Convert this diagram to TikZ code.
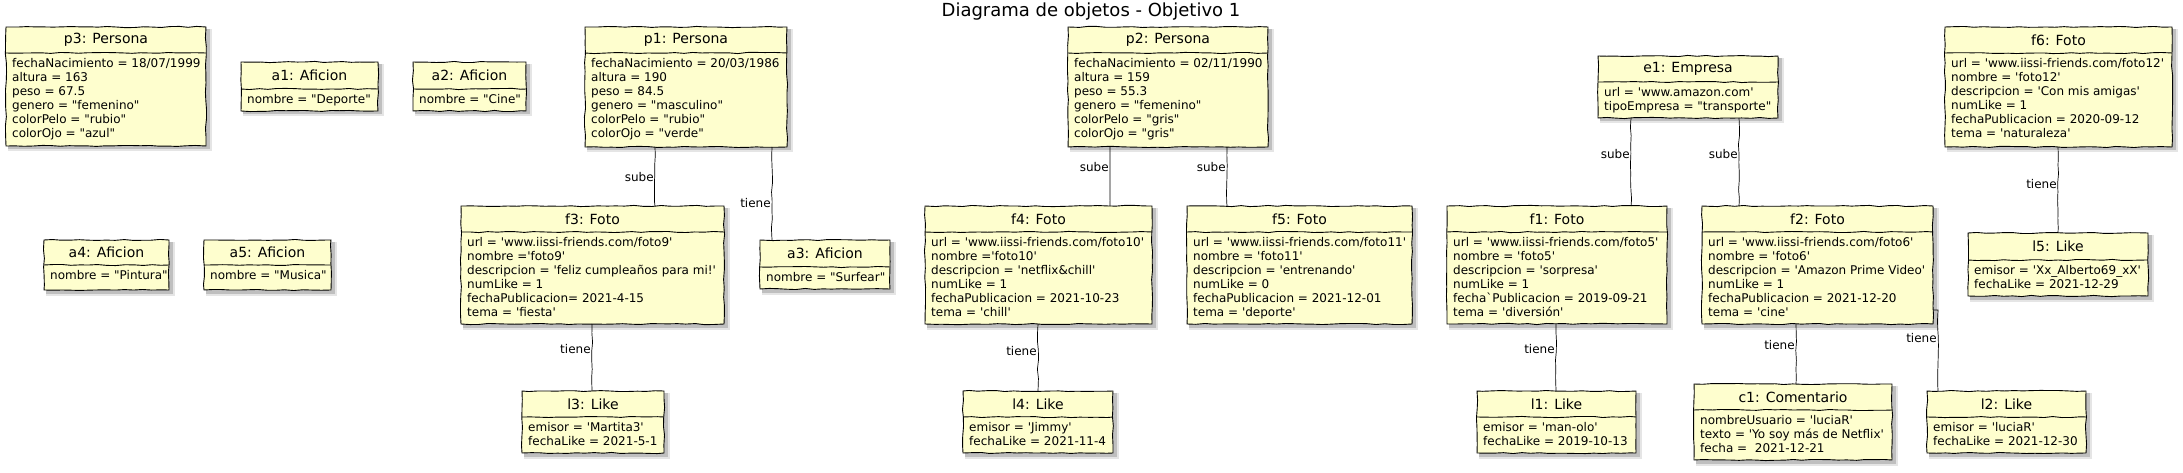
\documentclass[tikz,border=0pt]{standalone}
\usepackage{fontspec}
\newfontfamily\dvs{DejaVu Sans}
\usetikzlibrary{decorations.pathmorphing,calc}
\definecolor{objfill}{HTML}{FEFECE}
\tikzset{
  wavy/.style={decorate, decoration={random steps, segment length=9pt, amplitude=0.6pt}},
  objnode/.style={draw=black, fill=objfill, line width=0.9pt, inner sep=0pt, outer sep=0pt, rectangle, wavy},
  sepline/.style={draw=black, line width=0.9pt, wavy},
  hdr/.style={font=\dvs\fontsize{14}{16}\selectfont, inner sep=0pt},
  bodytxt/.style={font=\dvs\fontsize{12}{14}\selectfont, inner sep=0pt, anchor=north west, align=left},
  conn/.style={draw=black, line width=0.7pt, wavy},
  lbl/.style={font=\dvs\fontsize{12}{14}\selectfont, inner sep=1pt, anchor=east},
  shA/.style={fill=black!10},
  shB/.style={fill=black!25},
  titletxt/.style={font=\dvs\fontsize{18}{20}\selectfont, inner sep=0pt},
}
% name, x1, y1, x2, y2, sep, title, body
\newcommand\objbox[8]{%
  \fill[shA] (#2+2,#3+2) rectangle (#4+5.5,#5+5.5);
  \fill[shB] (#2+2,#3+2) rectangle (#4+3.5,#5+3.5);
  \node[objnode, minimum width={#4-#2}, minimum height={#5-#3}] (#1) at ({(#2+#4)/2},{(#3+#5)/2}) {};
  \draw[sepline] (#2,#6) -- (#4,#6);
  \node[hdr] (#1-t) at ({(#2+#4)/2},{(#3+#6)/2}) {#7};
  \node[bodytxt] (#1-b) at (#2+6,#6+5) {#8};
}
\begin{document}
\begin{tikzpicture}[x=1pt,y=-1pt]
\pgfmathsetseed{7}
\useasboundingbox (0,0) rectangle (2183,473);
\node[titletxt] (title) at (1091,12) {Diagrama de objetos - Objetivo 1};

\objbox{p3}{6}{27}{206}{146}{53}{p3: Persona}{fechaNacimiento = 18/07/1999\\altura = 163\\peso = 67.5\\genero = "femenino"\\colorPelo = "rubio"\\colorOjo = "azul"}
\objbox{a1}{241}{62}{378}{111}{89}{a1: Aficion}{nombre = "Deporte"}
\objbox{a2}{413}{62}{526}{111}{89}{a2: Aficion}{nombre = "Cine"}
\objbox{a4}{44}{240}{169}{290}{265}{a4: Aficion}{nombre = "Pintura"}
\objbox{a5}{204}{240}{331}{290}{265}{a5: Aficion}{nombre = "Musica"}
\objbox{p1}{585}{27}{787}{147}{53}{p1: Persona}{fechaNacimiento = 20/03/1986\\altura = 190\\peso = 84.5\\genero = "masculino"\\colorPelo = "rubio"\\colorOjo = "verde"}
\objbox{f3}{461}{206}{724}{324}{232}{f3: Foto}{url = 'www.iissi-friends.com/foto9'\\nombre ='foto9'\\descripcion = 'feliz cumpleaños para mi!'\\numLike = 1\\fechaPublicacion= 2021-4-15\\tema = 'fiesta'}
\objbox{a3}{760}{240}{890}{289}{267}{a3: Aficion}{nombre = "Surfear"}
\objbox{l3}{522}{391}{664}{453}{417}{l3: Like}{emisor = 'Martita3'\\fechaLike = 2021-5-1}
\objbox{p2}{1068}{27}{1268}{147}{53}{p2: Persona}{fechaNacimiento = 02/11/1990\\altura = 159\\peso = 55.3\\genero = "femenino"\\colorPelo = "gris"\\colorOjo = "gris"}
\objbox{f4}{925}{206}{1152}{324}{232}{f4: Foto}{url = 'www.iissi-friends.com/foto10'\\nombre ='foto10'\\descripcion = 'netflix\&chill'\\numLike = 1\\fechaPublicacion = 2021-10-23\\tema = 'chill'}
\objbox{f5}{1187}{206}{1412}{324}{232}{f5: Foto}{url = 'www.iissi-friends.com/foto11'\\nombre = 'foto11'\\descripcion = 'entrenando'\\numLike = 0\\fechaPublicacion = 2021-12-01\\tema = 'deporte'}
\objbox{l4}{963}{391}{1113}{453}{417}{l4: Like}{emisor = 'Jimmy'\\fechaLike = 2021-11-4}
\objbox{e1}{1598}{56}{1778}{118}{82}{e1: Empresa}{url = 'www.amazon.com'\\tipoEmpresa = "transporte"}
\objbox{f1}{1447}{206}{1667}{324}{232}{f1: Foto}{url = 'www.iissi-friends.com/foto5'\\nombre = 'foto5'\\descripcion = 'sorpresa'\\numLike = 1\\fecha`Publicacion = 2019-09-21\\tema = 'diversión'}
\objbox{l1}{1477}{391}{1636}{453}{417}{l1: Like}{emisor = 'man-olo'\\fechaLike = 2019-10-13}
\objbox{f2}{1702}{206}{1933}{324}{232}{f2: Foto}{url = 'www.iissi-friends.com/foto6'\\nombre = 'foto6'\\descripcion = 'Amazon Prime Video'\\numLike = 1\\fechaPublicacion = 2021-12-20\\tema = 'cine'}
\objbox{c1}{1694}{384}{1892}{460}{410}{c1: Comentario}{nombreUsuario = 'luciaR'\\texto = 'Yo soy más de Netflix'\\fecha = \ 2021-12-21}
\objbox{l2}{1927}{391}{2086}{453}{417}{l2: Like}{emisor = 'luciaR'\\fechaLike = 2021-12-30}
\objbox{f6}{1945}{27}{2172}{147}{53}{f6: Foto}{url = 'www.iissi-friends.com/foto12'\\nombre = 'foto12'\\descripcion = 'Con mis amigas'\\numLike = 1\\fechaPublicacion = 2020-09-12\\tema = 'naturaleza'}
\objbox{l5}{1968}{233}{2148}{296}{260}{l5: Like}{emisor = 'Xx\_Alberto69\_xX'\\fechaLike = 2021-12-29}

\coordinate (xs1) at (655,0);
\coordinate (xt1) at (772,0);
\coordinate (xt3) at (592,0);
\coordinate (xs4) at (1110,0);
\coordinate (xs5) at (1227,0);
\coordinate (xt4) at (1038,0);
\coordinate (xse1) at (1631,0);
\coordinate (xse2) at (1739,0);
\coordinate (xtf1) at (1556,0);
\coordinate (xtc) at (1796,0);
\coordinate (xtl2) at (1938,0);
\coordinate (ytl2) at (0,310);
\coordinate (xt5) at (2058,0);

\draw[conn] (p1.south -| xs1) -- node[lbl,pos=0.51] {sube} (f3.north -| xs1);
\draw[conn] (p1.south -| xt1) -- node[lbl,pos=0.6] {tiene} (a3.north -| xt1);
\draw[conn] (f3.south -| xt3) -- node[lbl,pos=0.37] {tiene} (l3.north -| xt3);
\draw[conn] (p2.south -| xs4) -- node[lbl,pos=0.34] {sube} (f4.north -| xs4);
\draw[conn] (p2.south -| xs5) -- node[lbl,pos=0.34] {sube} (f5.north -| xs5);
\draw[conn] (f4.south -| xt4) -- node[lbl,pos=0.4] {tiene} (l4.north -| xt4);
\draw[conn] (e1.south -| xse1) -- node[lbl,pos=0.41] {sube} (f1.north -| xse1);
\draw[conn] (e1.south -| xse2) -- node[lbl,pos=0.41] {sube} (f2.north -| xse2);
\draw[conn] (f1.south -| xtf1) -- node[lbl,pos=0.37] {tiene} (l1.north -| xtf1);
\draw[conn] (f2.south -| xtc) -- node[lbl,pos=0.35] {tiene} (c1.north -| xtc);
\draw[conn] (f2.east |- ytl2) -- (xtl2 |- ytl2) -- node[lbl,pos=0.35] {tiene} (l2.north -| xtl2);
\draw[conn] (f6.south -| xt5) -- node[lbl,pos=0.43] {tiene} (l5.north -| xt5);
\end{tikzpicture}
\end{document}
